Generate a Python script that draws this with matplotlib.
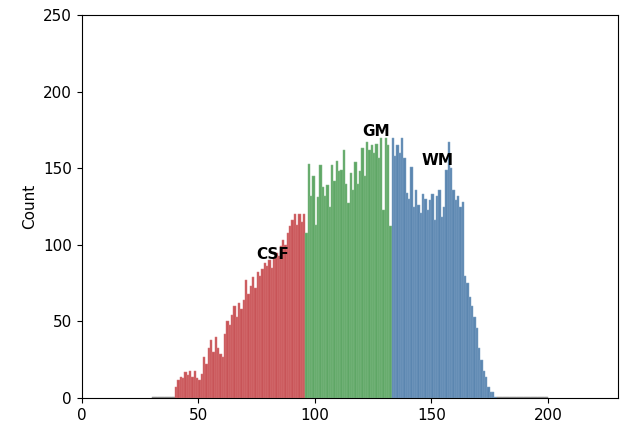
import matplotlib.pyplot as plt
import numpy as np

# bin counts, one bin per intensity value
tail_lo_start = 30
tail_lo = [1] * 10                     # 30..39

csf_start = 40
csf = [7, 12, 14, 13, 17, 15, 18, 14, 18, 13,
       12, 16, 27, 22, 33, 38, 30, 40, 33, 29,
       27, 42, 50, 48, 54, 60, 53, 62, 58, 64,
       77, 68, 73, 79, 72, 82, 80, 84, 88, 86,
       90, 85, 91, 95, 93, 99, 103, 100, 108, 112,
       116, 120, 113, 120, 115, 120]

gm_start = 96
gm = [108, 153, 132, 145, 113, 131, 152, 138, 132, 139,
      125, 152, 142, 155, 148, 149, 162, 140, 127, 147,
      136, 154, 140, 148, 163, 145, 167, 162, 165, 160,
      166, 157, 170, 123, 170, 165, 112]

wm_start = 133
wm = [170, 158, 165, 160, 170, 157, 134, 130, 151, 125,
      136, 126, 121, 133, 130, 123, 129, 133, 116, 132,
      136, 118, 125, 149, 167, 150, 136, 129, 132, 125,
      128, 80, 75, 66, 60, 53, 46, 33, 25, 18,
      14, 7, 4, 4, 1]

tail_hi_start = 178
tail_hi = [1] * 22                     # 178..199

labels = ['CSF', 'GM', 'WM']
label_pos = [(82, 94), (126.5, 174), (152.7, 155)]

fig = plt.figure(figsize=(6.24, 4.29), dpi=100)
ax = fig.add_axes([0.131, 0.072, 0.859, 0.893])

def draw(start, counts, color, edge):
    x = np.arange(start, start + len(counts))
    ax.bar(x, counts, width=1.0, align='edge', color=color,
           edgecolor=edge, linewidth=0.35)

draw(tail_lo_start, tail_lo, '#8c8c8c', '#8c8c8c')
draw(csf_start, csf, '#c85458', '#d97a7d')
draw(gm_start, gm, '#5fa766', '#86bd8b')
draw(wm_start, wm, '#5b86b0', '#82a5c6')
draw(tail_hi_start, tail_hi, '#8c8c8c', '#8c8c8c')

for lab, (x, y) in zip(labels, label_pos):
    ax.text(x, y, lab, fontsize=11, fontweight='bold', ha='center', va='center')

ax.set_xlim(0, 230)
ax.set_ylim(0, 250)
ax.set_xticks([0, 50, 100, 150, 200])
ax.set_ylabel('Count', fontsize=11)
ax.tick_params(labelsize=11)

fig.savefig('out.png', dpi=100)
